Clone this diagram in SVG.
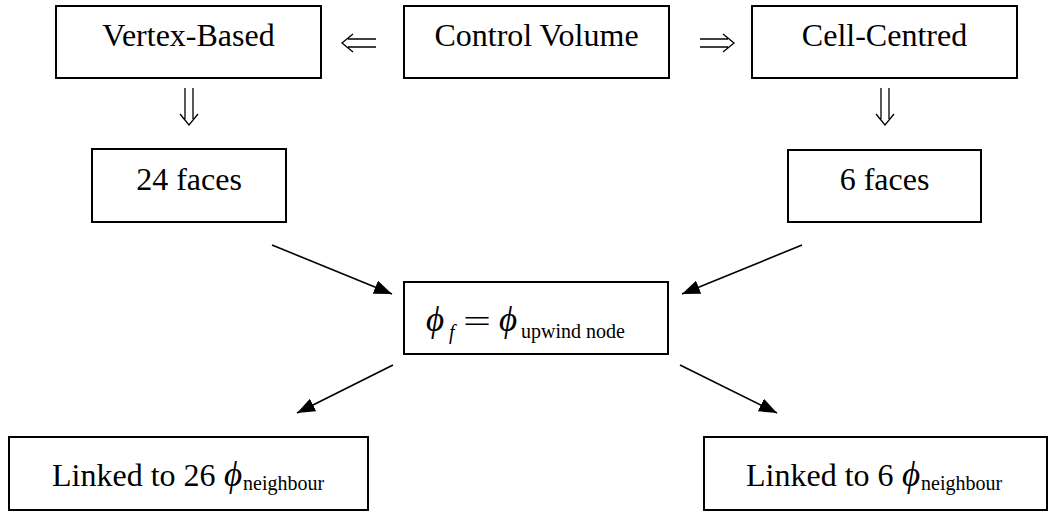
<svg xmlns="http://www.w3.org/2000/svg" width="1053" height="512" viewBox="0 0 1053 512">
  <style>
    .box { fill: #ffffff; stroke: #000000; stroke-width: 2; }
    .t { font-family: 'Liberation Serif', 'DejaVu Serif', serif; font-size: 32px; fill: #000000; }
    .sub { font-family: 'Liberation Serif', 'DejaVu Serif', serif; font-size: 20px; fill: #000000; }
    .phi { font-family: 'Liberation Serif', 'DejaVu Serif', serif; font-style: italic; font-size: 35px; fill: #000000; }
    .dbl { fill: none; stroke: #000000; stroke-width: 1.3; }
    .line { fill: none; stroke: #000000; stroke-width: 1.6; }
  </style>
  <defs>
    <marker id="head" viewBox="0 0 18 14" refX="18" refY="7" markerWidth="18" markerHeight="14" markerUnits="userSpaceOnUse" orient="auto">
      <path d="M0,0 L18,7 L0,14 Z" fill="#000000"/>
    </marker>
  </defs>

  <rect width="1053" height="512" fill="#ffffff"/>

  <g id="connectors">
    <!-- double arrows between the top row and down to the face counts -->
    <path class="dbl" d="M376,39 H348 M376,47 H348 M353,34 L342,43 L353,52"/>
    <path class="dbl" d="M700,39 H728 M700,47 H728 M723,34 L734,43 L723,52"/>
    <path class="dbl" d="M185,88 V119 M193,88 V119 M180,114 L189,125 L198,114"/>
    <path class="dbl" d="M881,88 V119 M889,88 V119 M876,114 L885,125 L894,114"/>
    <!-- single arrows into and out of the upwind relation -->
    <line class="line" x1="272" y1="245" x2="392" y2="294" marker-end="url(#head)"/>
    <line class="line" x1="802" y1="245" x2="682" y2="294" marker-end="url(#head)"/>
    <line class="line" x1="393" y1="365" x2="297" y2="413" marker-end="url(#head)"/>
    <line class="line" x1="680" y1="365" x2="777" y2="413" marker-end="url(#head)"/>
  </g>

  <g id="vertex-based">
    <rect class="box" x="56" y="6" width="265" height="72"/>
    <text class="t" x="188.5" y="46" text-anchor="middle">Vertex-Based</text>
  </g>

  <g id="control-volume">
    <rect class="box" x="404" y="6" width="265" height="72"/>
    <text class="t" x="536.5" y="46" text-anchor="middle">Control Volume</text>
  </g>

  <g id="cell-centred">
    <rect class="box" x="752" y="6" width="265" height="72"/>
    <text class="t" x="884.5" y="46" text-anchor="middle">Cell-Centred</text>
  </g>

  <g id="faces-24">
    <rect class="box" x="92" y="149" width="194" height="73"/>
    <text class="t" x="189" y="190" text-anchor="middle">24 faces</text>
  </g>

  <g id="faces-6">
    <rect class="box" x="788" y="150" width="193" height="72"/>
    <text class="t" x="884.5" y="190" text-anchor="middle">6 faces</text>
  </g>

  <g id="upwind">
    <rect class="box" x="404" y="282" width="264" height="72"/>
    <text class="phi" x="426" y="331" font-size="37">ϕ</text>
    <text class="sub" x="449" y="339" font-style="italic" font-size="23">f</text>
    <text class="t" x="463" y="332" font-size="46" textLength="28" lengthAdjust="spacingAndGlyphs">=</text>
    <text class="phi" x="499" y="331" font-size="37">ϕ</text>
    <text class="sub" x="521" y="338" font-size="23">upwind node</text>
  </g>

  <g id="linked-26">
    <rect class="box" x="9" y="437" width="359" height="73"/>
    <text class="t" x="52" y="486">Linked to 26</text>
    <text class="phi" x="224" y="486">ϕ</text>
    <text class="sub" x="243" y="490">neighbour</text>
  </g>

  <g id="linked-6">
    <rect class="box" x="704" y="437" width="343" height="73"/>
    <text class="t" x="746" y="486">Linked to 6</text>
    <text class="phi" x="902" y="486">ϕ</text>
    <text class="sub" x="921" y="490">neighbour</text>
  </g>
</svg>
